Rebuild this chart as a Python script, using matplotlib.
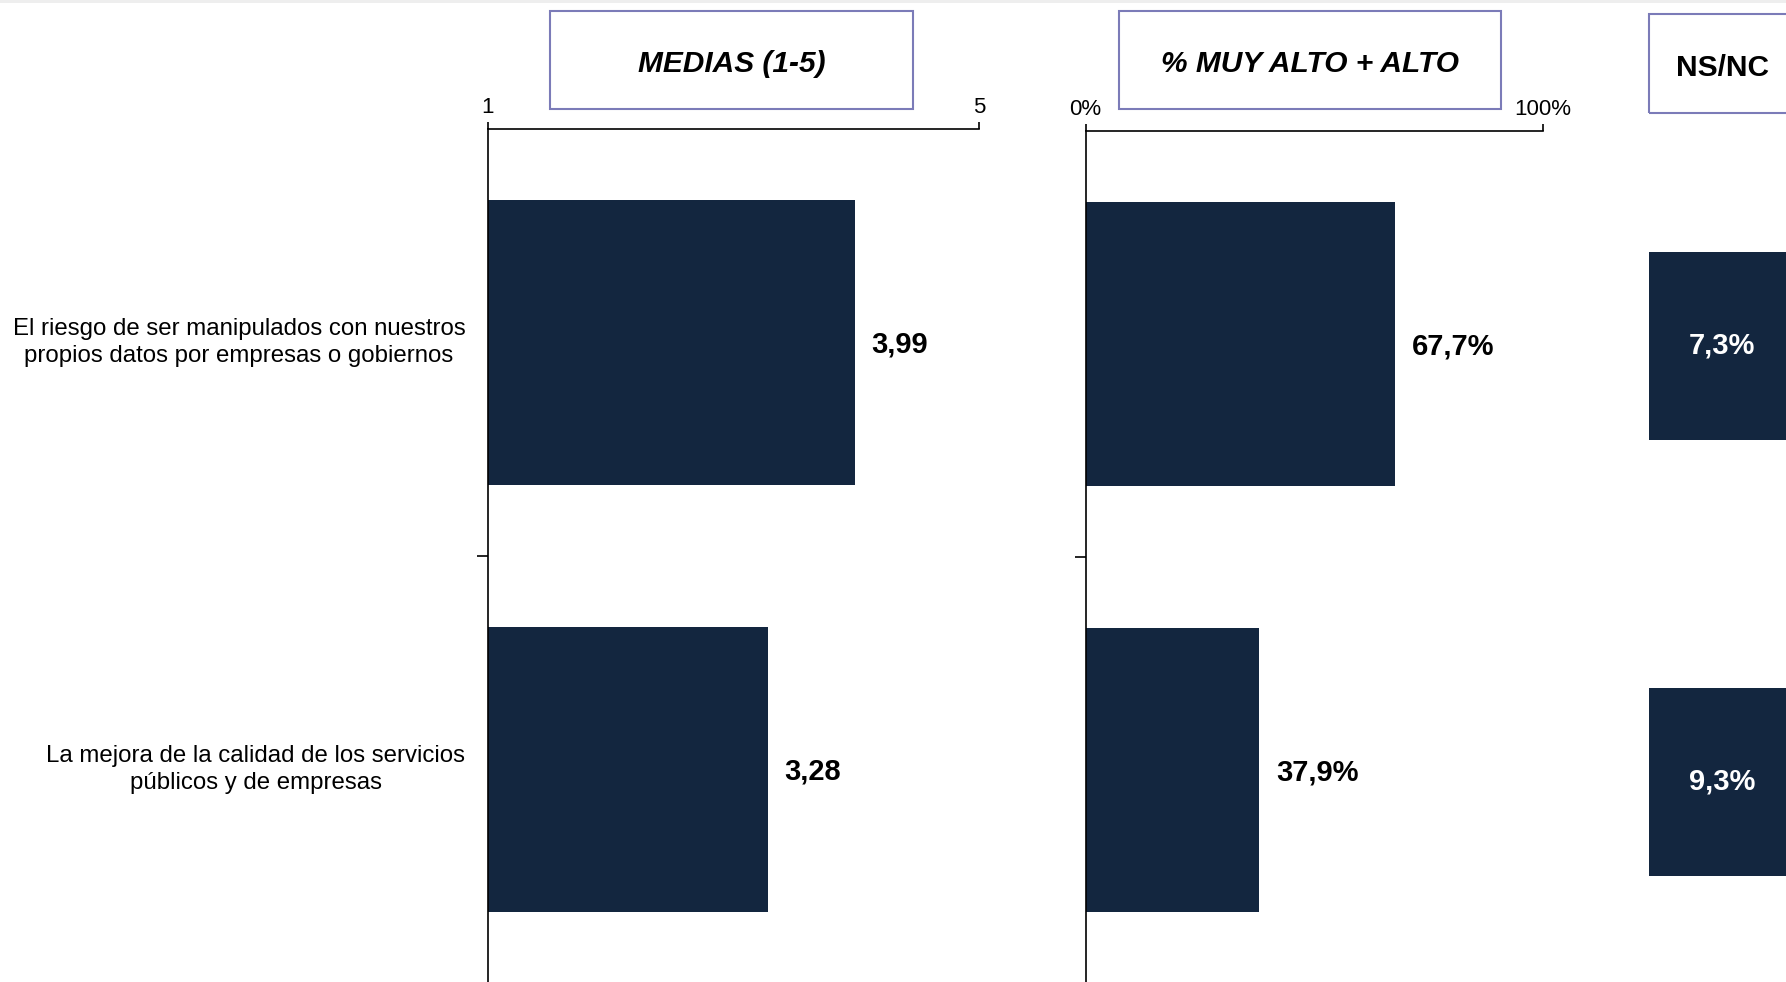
import matplotlib.pyplot as plt
from matplotlib.patches import Rectangle

plt.rcParams['font.family'] = ['Liberation Sans', 'DejaVu Sans']

# Data
categories = [
    'El riesgo de ser manipulados con nuestros\npropios datos por empresas o gobiernos',
    'La mejora de la calidad de los servicios\npúblicos y de empresas',
]
medias = [3.99, 3.28]
pct_alto = [67.7, 37.9]
ns_nc = [7.3, 9.3]

bar_color = '#13263f'
box_edge = '#7b7bb8'

W, H = 1786, 982
fig = plt.figure(figsize=(W / 100, H / 100), dpi=100)


def fx(px):
    return px / W


def fy(py):
    return 1 - py / H


def setup_axis(ax, lo, hi, ticklabels):
    ax.set_xlim(lo, hi)
    ax.set_ylim(1.5, -0.5)
    for s in ['right', 'bottom']:
        ax.spines[s].set_visible(False)
    ax.spines['top'].set_linewidth(1.2)
    ax.spines['left'].set_linewidth(1.2)
    ax.xaxis.tick_top()
    ax.set_xticks([lo, hi], ticklabels)
    ax.tick_params(axis='x', direction='out', length=5, width=1.2, pad=3, labelsize=16)
    ax.set_yticks([0.5], [''])
    ax.tick_params(axis='y', direction='out', length=8, width=1.2)


# Panel 1: medias (1-5)
ax1 = fig.add_axes([fx(487.5), -1 / H, fx(979.5 - 487.5), 1 - 128 / H])
ax1.barh(range(len(medias)), [m - 1 for m in medias], left=1, height=0.667, color=bar_color)
setup_axis(ax1, 1, 5, ['1', '5'])
for i, v in enumerate(medias):
    ax1.annotate(f'{v:.2f}'.replace('.', ','), (v, i), xytext=(16, -2), textcoords='offset pixels',
                 ha='left', va='center', fontsize=21, fontweight='bold')
for i, lab in enumerate(categories):
    ax1.text(-0.045, i, lab, transform=ax1.get_yaxis_transform(), ha='right', va='center',
             multialignment='center', fontsize=17.3, linespacing=1.32)

# Panel 2: % muy alto + alto
ax2 = fig.add_axes([fx(1085.5), -1 / H, fx(1543 - 1085.5), 1 - 130.5 / H])
ax2.barh(range(len(pct_alto)), pct_alto, height=0.667, color=bar_color)
setup_axis(ax2, 0, 100, ['0%', '100%'])
for i, v in enumerate(pct_alto):
    ax2.annotate(f'{v:.1f}%'.replace('.', ','), (v, i), xytext=(17, -2), textcoords='offset pixels',
                 ha='left', va='center', fontsize=21, fontweight='bold')

# Panel 3: NS/NC tiles
ax3 = fig.add_axes([fx(1649), 1 - 1000 / H, fx(146), 872 / H])
ax3.barh(range(len(ns_nc)), [1] * len(ns_nc), height=0.43, color=bar_color)
ax3.set_xlim(0, 1)
ax3.set_ylim(1.5, -0.5)
ax3.axis('off')
for i, v in enumerate(ns_nc):
    ax3.text(0.5, i, f'{v:.1f}%'.replace('.', ','), ha='center', va='center',
             fontsize=21, fontweight='bold', color='white')

# Header boxes
headers = [
    ('MEDIAS (1-5)', 550, 913, 11, 109, 'italic'),
    ('% MUY ALTO + ALTO', 1118.5, 1501, 11, 109, 'italic'),
    ('NS/NC', 1649, 1800, 14, 113, 'normal'),
]
for text, x0, x1, y0, y1, style in headers:
    fig.patches.append(Rectangle((fx(x0), fy(y1)), fx(x1 - x0), (y1 - y0) / H,
                                 transform=fig.transFigure, fill=False,
                                 edgecolor=box_edge, linewidth=1.5))
    cx = (x0 + x1) / 2 if style == 'italic' else 1722
    fig.text(fx(cx), fy((y0 + y1) / 2 + 4), text, ha='center', va='center',
             fontsize=21.5, fontweight='bold', fontstyle=style)

# thin grey band at the very top
fig.patches.append(Rectangle((0, fy(3)), 1, 3 / H, transform=fig.transFigure,
                             facecolor='#eeeeee', edgecolor='none'))

fig.savefig('out.png', dpi=100)
